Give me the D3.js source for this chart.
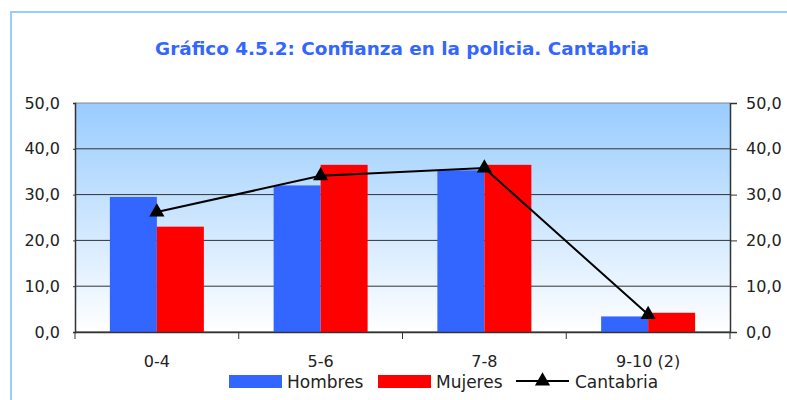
<!DOCTYPE html>
<html>
<head>
<meta charset="utf-8">
<title>Confianza en la policía</title>
<script src="https://cdn.jsdelivr.net/npm/d3@7"></script>
<style>
body { margin: 0; background: #fff; }
svg { display: block; font-family: "DejaVu Sans", sans-serif; }
</style>
</head>
<body>
<script>
// datos
var categorias = ["0-4", "5-6", "7-8", "9-10 (2)"];
var hombres = [29.5, 32.0, 35.3, 3.4];
var mujeres = [23.0, 36.5, 36.5, 4.2];
var cantabria = [26.2, 34.1, 35.8, 3.8];
var ticks = [0, 10, 20, 30, 40, 50];
var series = [
	{ nombre: "Hombres", valores: hombres, color: "#3366ff" },
	{ nombre: "Mujeres", valores: mujeres, color: "#ff0000" }
];

var width = 787, height = 400;
var m = { left: 75, right: 57, top: 103, bottom: 68 };
var pw = width - m.left - m.right, ph = height - m.top - m.bottom;

var svg = d3.select("body").append("svg")
	.attr("width", width).attr("height", height);

// marco exterior
svg.append("rect")
	.attr("x", 11).attr("y", 12).attr("width", 800).attr("height", 420)
	.attr("fill", "none").attr("stroke", "#99ccff").attr("stroke-width", 2);

svg.append("text")
	.attr("x", 402).attr("y", 55)
	.attr("text-anchor", "middle")
	.attr("fill", "#3366ff")
	.attr("font-weight", "bold")
	.attr("font-size", 18.4)
	.text("Gráfico 4.5.2: Confianza en la policia. Cantabria");

var grad = svg.append("defs").append("linearGradient")
	.attr("id", "fondo").attr("x1", 0).attr("y1", 0).attr("x2", 0).attr("y2", 1);
grad.append("stop").attr("offset", "0%").attr("stop-color", "#99ccff");
grad.append("stop").attr("offset", "100%").attr("stop-color", "#ffffff");

var g = svg.append("g").attr("transform", "translate(" + m.left + "," + m.top + ")");

var x = d3.scaleBand().domain(categorias).range([0, pw]);
var xs = d3.scaleBand().domain(series.map(function(s){ return s.nombre; }))
	.range([x.bandwidth() * 0.213, x.bandwidth() * 0.787]);
var y = d3.scaleLinear().domain([0, 50]).range([ph, 0]);

g.append("rect").attr("width", pw).attr("height", ph).attr("fill", "url(#fondo)");

// rejilla
g.selectAll(".grid").data(ticks).enter().append("line")
	.attr("x1", 0).attr("x2", pw)
	.attr("y1", function(d){ return y(d); }).attr("y2", function(d){ return y(d); })
	.attr("stroke", function(d){ return d == 50 ? "#888" : "#333"; })
	.attr("stroke-width", 1);

// barras
series.forEach(function(s){
	g.selectAll(null).data(s.valores).enter().append("rect")
		.attr("x", function(d, i){ return x(categorias[i]) + xs(s.nombre); })
		.attr("width", xs.bandwidth())
		.attr("y", function(d){ return y(d); })
		.attr("height", function(d){ return ph - y(d); })
		.attr("fill", s.color);
});

// ejes
var fmt = function(d){ return d3.format(".1f")(d).replace(".", ","); };
var ejeIzq = g.append("g").call(d3.axisLeft(y).tickValues(ticks).tickSize(2).tickPadding(13).tickFormat(fmt));
var ejeDer = g.append("g").attr("transform", "translate(" + pw + ",0)")
	.call(d3.axisRight(y).tickValues(ticks).tickSize(7).tickPadding(9).tickFormat(fmt));
var ejeX = g.append("g").attr("transform", "translate(0," + ph + ")")
	.call(d3.axisBottom(x).tickSize(0).tickPadding(24));
[ejeIzq, ejeDer, ejeX].forEach(function(e){
	e.select(".domain").attr("stroke", "#333").attr("stroke-width", 1.5);
	e.selectAll("line").attr("stroke", "#333");
	e.selectAll("text").attr("font-size", 16).attr("fill", "#222")
		.attr("font-family", "DejaVu Sans, sans-serif");
});
ejeX.select(".domain").attr("d", "M0,0.5H" + pw);
// marcas entre categorías
g.append("g").selectAll("line").data(d3.range(categorias.length + 1)).enter().append("line")
	.attr("x1", function(i){ return i * x.step(); }).attr("x2", function(i){ return i * x.step(); })
	.attr("y1", ph).attr("y2", ph + 7).attr("stroke", "#333");

// línea Cantabria
var cx = function(i){ return x(categorias[i]) + x.bandwidth() / 2; };
g.append("path").datum(cantabria)
	.attr("fill", "none").attr("stroke", "#000").attr("stroke-width", 2)
	.attr("d", d3.line().x(function(d, i){ return cx(i); }).y(function(d){ return y(d); }));
var tri = d3.symbol().type(d3.symbolTriangle).size(100);
g.selectAll(".mk").data(cantabria).enter().append("path")
	.attr("d", tri)
	.attr("transform", function(d, i){ return "translate(" + cx(i) + "," + y(d) + ")"; })
	.attr("fill", "#000");

// leyenda
var ly = 381;
var ley = svg.append("g");
[{ x: 229, s: series[0] }, { x: 378, s: series[1] }].forEach(function(l){
	ley.append("rect").attr("x", l.x).attr("y", ly - 6).attr("width", 53).attr("height", 13).attr("fill", l.s.color);
	ley.append("text").attr("x", l.x + 58).attr("y", ly + 7).attr("font-size", 17).attr("fill", "#222").text(l.s.nombre);
});
ley.append("line").attr("x1", 516).attr("x2", 569).attr("y1", ly).attr("y2", ly)
	.attr("stroke", "#000").attr("stroke-width", 2);
ley.append("path").attr("d", tri).attr("transform", "translate(542.5," + ly + ")").attr("fill", "#000");
ley.append("text").attr("x", 575).attr("y", ly + 7).attr("font-size", 17).attr("fill", "#222").text("Cantabria");
</script>
</body>
</html>
